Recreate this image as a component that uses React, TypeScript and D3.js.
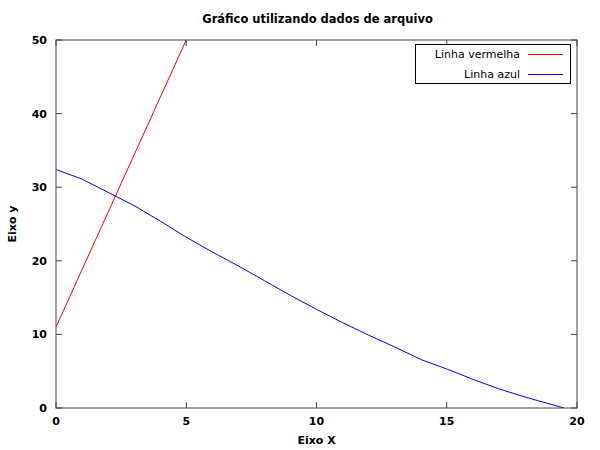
import React from "react";
import * as d3 from "d3";

const title = "Gráfico utilizando dados de arquivo";
const xLabel = "Eixo X";
const yLabel = "Eixo y";
const xTicks = [0, 5, 10, 15, 20];
const yTicks = [0, 10, 20, 30, 40, 50];

const redX = [0, 1, 2, 3, 4, 5, 6];
const redY = [11, 18.8, 26.6, 34.4, 42.2, 50, 57.8];
const blueX = [0, 1, 2, 3, 4, 5, 6, 7, 8, 9, 10, 11, 12, 13, 14, 15, 16, 17, 18, 19, 19.5];
const blueY = [32.4, 31.1, 29.3, 27.5, 25.4, 23.2, 21.2, 19.3, 17.3, 15.3, 13.4, 11.6, 9.9, 8.3, 6.6, 5.3, 3.9, 2.6, 1.5, 0.5, 0];
const seriesNames = ["Linha vermelha", "Linha azul"];
const seriesColors = ["#ff0000", "#0000ff"];

export default function App() {
  const W = 600, H = 450;
  const L = 56, R = 577, T = 40, B = 408;
  const x = d3.scaleLinear().domain([0, 20]).range([L, R]);
  const y = d3.scaleLinear().domain([0, 50]).range([B, T]);
  const line = d3.line<[number, number]>().x(d => x(d[0])).y(d => y(d[1]));
  const red = redX.map((v, i) => [v, redY[i]] as [number, number]);
  const blue = blueX.map((v, i) => [v, blueY[i]] as [number, number]);
  const frame = "#444";
  const font = "DejaVu Sans, sans-serif";
  const tl = 6;
  return (
    <svg width={W} height={H} style={{ position: "absolute", left: 0, top: 0, background: "#fff" }} fontFamily={font}>
      <defs>
        <clipPath id="clip"><rect x={L} y={T} width={R - L} height={B - T} /></clipPath>
      </defs>
      <text x={(L + R) / 2 + 1} y={23} textAnchor="middle" fontSize={11.5} fontWeight="bold">{title}</text>
      {xTicks.map(t => (
        <g key={"x" + t}>
          <line x1={x(t)} x2={x(t)} y1={B} y2={B - tl} stroke={frame} />
          <line x1={x(t)} x2={x(t)} y1={T} y2={T + tl} stroke={frame} />
          <text x={x(t)} y={425} textAnchor="middle" fontSize={11} fontWeight="bold">{t}</text>
        </g>
      ))}
      {yTicks.map(t => (
        <g key={"y" + t}>
          <line x1={L} x2={L + tl} y1={y(t)} y2={y(t)} stroke={frame} />
          <line x1={R} x2={R - tl} y1={y(t)} y2={y(t)} stroke={frame} />
          <text x={47} y={y(t) + 4} textAnchor="end" fontSize={11} fontWeight="bold">{t}</text>
        </g>
      ))}
      <text x={(L + R) / 2} y={444} textAnchor="middle" fontSize={11} fontWeight="bold">{xLabel}</text>
      <text transform={`translate(16,${(T + B) / 2}) rotate(-90)`} textAnchor="middle" fontSize={11} fontWeight="bold">{yLabel}</text>
      <g clipPath="url(#clip)">
        <path d={line(red) || ""} fill="none" stroke={seriesColors[0]} strokeWidth={1} />
        <path d={line(blue) || ""} fill="none" stroke={seriesColors[1]} strokeWidth={1} />
      </g>
      <rect x={L} y={T} width={R - L} height={B - T} fill="none" stroke={frame} />
      <rect x={415.5} y={44.5} width={155} height={39} fill="#fff" stroke="#000" />
      {seriesNames.map((n, i) => (
        <g key={n}>
          <text x={520} y={58 + i * 20} textAnchor="end" fontSize={11}>{n}</text>
          <line x1={528} x2={563} y1={54.5 + i * 20} y2={54.5 + i * 20} stroke={seriesColors[i]} />
        </g>
      ))}
    </svg>
  );
}
